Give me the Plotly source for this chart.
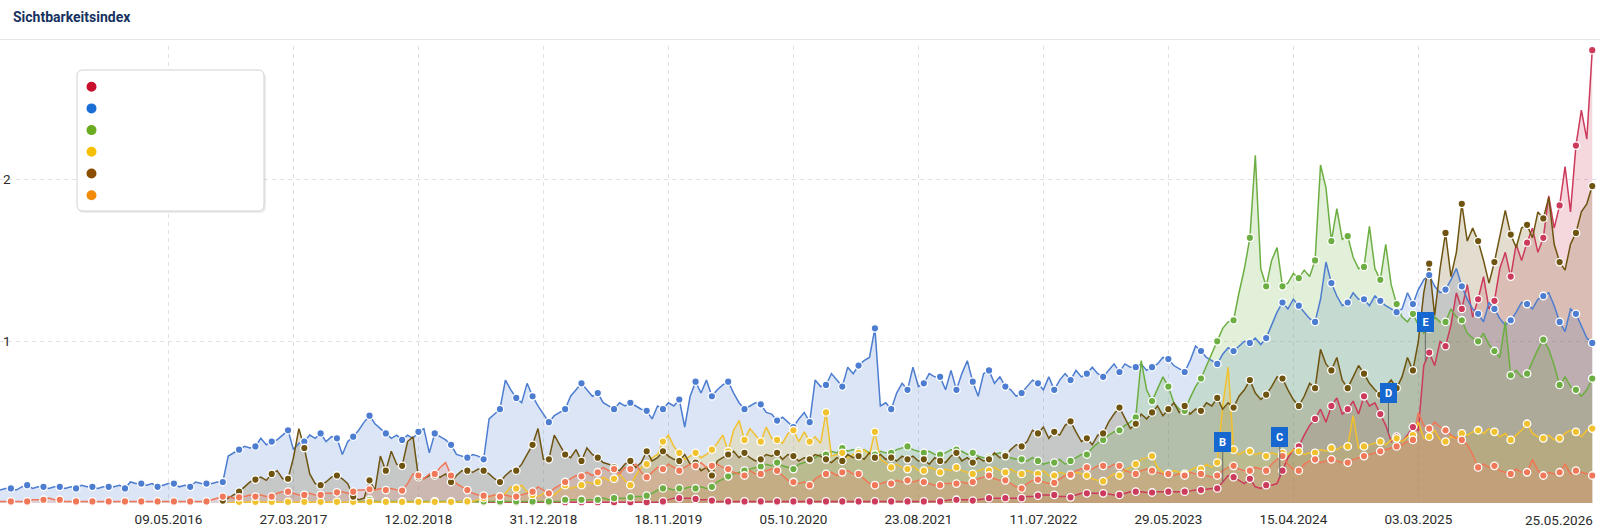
import numpy as np
import pandas as pd
import plotly.graph_objects as go

# ---------------- data: Sichtbarkeitsindex, biweekly values ----------------
START_DATE = "2015-03-02"
N_POINTS = 294
STEP = "14D"

tick_dates = ["2016-05-09", "2017-03-27", "2018-02-12", "2018-12-31", "2019-11-18",
              "2020-10-05", "2021-08-23", "2022-07-11", "2023-05-29", "2024-04-15", "2025-03-03"]
tick_labels = ["09.05.2016", "27.03.2017", "12.02.2018", "31.12.2018", "18.11.2019",
               "05.10.2020", "23.08.2021", "11.07.2022", "29.05.2023", "15.04.2024", "03.03.2025"]
last_label = "25.05.2026"

flag_dates = ["2023-10-16", "2024-03-11", "2024-12-16", "2025-03-21"]
flag_labels = ["B", "C", "D", "E"]

blue = [0.08, 0.09,
    0.09,0.08,0.10, 0.11,0.09,0.10, 0.10,0.09,0.10, 0.10,0.09,0.10, 0.09,0.11,0.10, 0.10,0.09,0.10, 0.10,0.10,0.11,
    0.09,0.13,0.12, 0.12,0.11,0.12, 0.10,0.11,0.12, 0.12,0.10,0.11, 0.10,0.13,0.12, 0.12,0.12,0.13, 0.13,0.29,0.31,
    0.33,0.35,0.34, 0.35,0.40,0.36, 0.38,0.39,0.42, 0.45,0.33,0.37, 0.38,0.42,0.40, 0.43,0.38,0.41, 0.40,0.30,0.38,
    0.41,0.45,0.50, 0.54,0.49,0.46, 0.43,0.40,0.42, 0.39,0.42,0.40, 0.44,0.46,0.31, 0.43,0.41,0.39, 0.36,0.30,0.29,
    0.28,0.30,0.29,
    0.27,0.52,0.55, 0.58,0.76,0.70, 0.65,0.62,0.74, 0.66,0.60,0.55, 0.50,0.54,0.56, 0.58,0.66,0.70, 0.74,0.70,0.66,
    0.68,0.62,0.60, 0.58,0.62,0.60, 0.62,0.60,0.58, 0.57,0.52,0.60, 0.58,0.62,0.60, 0.64,0.47,0.66, 0.75,0.68,0.76,
    0.66,0.70,0.73,
    0.75,0.68,0.62, 0.58,0.60,0.62, 0.61,0.56,0.55, 0.51,0.53,0.50, 0.47,0.52,0.56, 0.50,0.76,0.72, 0.73,0.80,0.76,
    0.72,0.84,0.80, 0.85,0.88,0.90, 1.08,0.60,0.62, 0.58,0.68,0.74, 0.70,0.84,0.72, 0.74,0.80,0.78, 0.78,0.70,0.82,
    0.70,0.80,0.88,
    0.75,0.66,0.80, 0.82,0.74,0.78, 0.72,0.70,0.66, 0.68,0.72,0.76, 0.74,0.70,0.78, 0.70,0.76,0.80, 0.76,0.82,0.78,
    0.80,0.84,0.80, 0.78,0.82,0.86, 0.81,0.86,0.84, 0.84,0.86,0.82, 0.84,0.86,0.90, 0.89,0.85,0.83, 0.81,0.88,0.97,
    0.94,0.90,0.88,
    0.86,0.92,0.96, 0.94,0.97,1.00, 0.99,1.02,0.98, 1.02,1.10,1.18, 1.24,1.20,1.26, 1.22,1.18,1.14, 1.12,1.26,1.49,
    1.36,1.28,1.22, 1.24,1.30,1.26, 1.26,1.22,1.28, 1.25,1.22,1.20, 1.18,1.20,1.30, 1.23,1.32,1.38, 1.41,1.34,1.30,
    1.32,1.38,1.45,
    1.34,1.26,1.20, 1.17,1.12,1.24, 1.20,1.14,1.10, 1.13,1.18,1.24, 1.23,1.20,1.26, 1.28,1.30,1.22, 1.12,1.06,1.20,
    1.17,1.10,1.02,
    0.99]

orange = [0.01, 0.01,
    0.01,0.01,0.01, 0.01,0.02,0.02, 0.02,0.03,0.02, 0.02,0.01,0.01, 0.01,0.01,0.01, 0.01,0.01,0.01, 0.01,0.01,0.01,
    0.01,0.01,0.01, 0.01,0.01,0.01, 0.01,0.01,0.01, 0.01,0.01,0.01, 0.01,0.01,0.01, 0.01,0.02,0.03, 0.04,0.04,0.03,
    0.035,0.04,0.05, 0.04,0.05,0.04, 0.04,0.06,0.07, 0.07,0.06,0.05, 0.05,0.06,0.05, 0.05,0.06,0.06, 0.066,0.07,0.06,
    0.07,0.08,0.08, 0.085,0.08,0.09, 0.08,0.09,0.08, 0.077,0.12,0.18, 0.17,0.15,0.18, 0.18,0.22,0.25, 0.17,0.12,0.10,
    0.08,0.06,0.05,
    0.045,0.04,0.05, 0.04,0.05,0.04, 0.04,0.05,0.06, 0.07,0.10,0.08, 0.06,0.09,0.11, 0.13,0.15,0.17, 0.165,0.19,0.17,
    0.19,0.22,0.20, 0.21,0.18,0.22, 0.21,0.24,0.19, 0.16,0.19,0.22, 0.21,0.24,0.22, 0.20,0.22,0.24, 0.23,0.25,0.22,
    0.23,0.24,0.22,
    0.21,0.19,0.18, 0.17,0.20,0.18, 0.18,0.20,0.21, 0.20,0.17,0.14, 0.13,0.12,0.13, 0.11,0.15,0.17, 0.18,0.19,0.17,
    0.19,0.20,0.18, 0.18,0.15,0.12, 0.11,0.12,0.13, 0.12,0.14,0.13, 0.14,0.13,0.14, 0.13,0.12,0.11, 0.11,0.12,0.12,
    0.12,0.13,0.12,
    0.13,0.15,0.16, 0.17,0.15,0.14, 0.14,0.12,0.10, 0.09,0.12,0.14, 0.145,0.13,0.12, 0.125,0.15,0.17, 0.175,0.20,0.21,
    0.22,0.21,0.23, 0.23,0.22,0.24, 0.23,0.20,0.19, 0.18,0.20,0.21, 0.20,0.19,0.18, 0.18,0.17,0.18, 0.17,0.19,0.18,
    0.18,0.17,0.16,
    0.17,0.20,0.22, 0.23,0.21,0.20, 0.20,0.22,0.21, 0.20,0.24,0.27, 0.29,0.24,0.21, 0.20,0.24,0.26, 0.27,0.25,0.26,
    0.27,0.26,0.25, 0.25,0.27,0.28, 0.29,0.30,0.31, 0.32,0.33,0.34, 0.35,0.36,0.38, 0.39,0.56,0.48, 0.46,0.50,0.47,
    0.45,0.42,0.40,
    0.39,0.36,0.30, 0.22,0.24,0.22, 0.23,0.20,0.19, 0.18,0.21,0.19, 0.19,0.27,0.20, 0.17,0.19,0.18, 0.19,0.24,0.18,
    0.20,0.19,0.18,
    0.17]

yellow = [None] * 42 + [0.0, 0.005,
    0.007,0.005,0.007, 0.007,0.005,0.007, 0.007,0.005,0.007, 0.007,0.005,0.007, 0.007,0.005,0.007, 0.007,0.005,0.007,
    0.007,0.005,0.007, 0.007,0.005,0.007, 0.007,0.005,0.007, 0.007,0.005,0.007, 0.007,0.005,0.007, 0.007,0.005,0.007,
    0.007,0.005,0.007, 0.007,0.005,0.01, 0.01,0.01,0.02,
    0.03,0.04,0.05, 0.04,0.06,0.10, 0.09,0.11,0.07, 0.05,0.04,0.06, 0.06,0.05,0.08, 0.11,0.09,0.10, 0.11,0.13,0.12,
    0.13,0.16,0.14, 0.15,0.18,0.14, 0.11,0.17,0.22, 0.24,0.28,0.30, 0.38,0.42,0.35, 0.31,0.27,0.29, 0.31,0.28,0.30,
    0.33,0.37,0.42,
    0.32,0.45,0.51, 0.39,0.46,0.42, 0.38,0.47,0.40, 0.39,0.37,0.43, 0.45,0.38,0.44, 0.38,0.41,0.37, 0.56,0.29,0.30,
    0.31,0.28,0.30, 0.31,0.33,0.30, 0.44,0.27,0.25, 0.22,0.24,0.22, 0.21,0.23,0.20, 0.20,0.22,0.21, 0.19,0.21,0.20,
    0.22,0.20,0.19,
    0.18,0.20,0.21, 0.20,0.22,0.20, 0.19,0.21,0.19, 0.18,0.20,0.19, 0.18,0.20,0.17, 0.17,0.19,0.18, 0.17,0.19,0.18,
    0.17,0.15,0.14, 0.135,0.16,0.18, 0.17,0.20,0.22, 0.24,0.27,0.28, 0.29,0.22,0.19, 0.18,0.20,0.19, 0.18,0.20,0.22,
    0.21,0.24,0.22,
    0.25,0.60,0.84, 0.33,0.30,0.32, 0.32,0.30,0.31, 0.29,0.31,0.30, 0.31,0.30,0.33, 0.32,0.30,0.31, 0.31,0.33,0.32,
    0.34,0.33,0.35, 0.35,0.54,0.34, 0.35,0.36,0.37, 0.38,0.36,0.39, 0.40,0.38,0.41, 0.42,0.50,0.40, 0.41,0.45,0.39,
    0.38,0.41,0.40,
    0.43,0.42,0.44, 0.45,0.43,0.46, 0.44,0.41,0.43, 0.39,0.42,0.45, 0.49,0.43,0.41, 0.40,0.42,0.39, 0.40,0.43,0.45,
    0.44,0.41,0.45,
    0.46]

brown = [None] * 41 + [0.015, 0.03, 0.05,
    0.07,0.10,0.13, 0.145,0.16,0.14, 0.18,0.20,0.15, 0.15,0.28,0.46, 0.34,0.18,0.12, 0.11,0.13,0.16, 0.17,0.15,0.12,
    0.04,0.02,0.03, 0.14,0.08,0.29, 0.20,0.32,0.24, 0.23,0.38,0.41, 0.16,0.15,0.17, 0.17,0.16,0.18, 0.13,0.17,0.20,
    0.20,0.19,0.21,
    0.20,0.18,0.15, 0.13,0.17,0.20, 0.20,0.24,0.30, 0.36,0.46,0.27, 0.27,0.42,0.36, 0.30,0.28,0.33, 0.26,0.34,0.30,
    0.28,0.25,0.24, 0.22,0.20,0.24, 0.26,0.22,0.25, 0.32,0.26,0.28, 0.32,0.29,0.27, 0.26,0.30,0.24, 0.25,0.20,0.22,
    0.17,0.26,0.28,
    0.30,0.32,0.28, 0.31,0.28,0.26, 0.27,0.30,0.29, 0.31,0.27,0.30, 0.29,0.26,0.28, 0.27,0.30,0.29, 0.27,0.25,0.28,
    0.26,0.30,0.28, 0.29,0.27,0.31, 0.28,0.30,0.27, 0.28,0.26,0.29, 0.27,0.29,0.26, 0.27,0.24,0.28, 0.26,0.25,0.29,
    0.31,0.26,0.28,
    0.25,0.28,0.26, 0.27,0.31,0.28, 0.29,0.33,0.36, 0.35,0.38,0.45, 0.43,0.47,0.40, 0.44,0.42,0.48, 0.505,0.44,0.38,
    0.40,0.36,0.42, 0.43,0.50,0.55, 0.59,0.52,0.46, 0.49,0.55,0.52, 0.56,0.60,0.54, 0.58,0.62,0.56, 0.60,0.55,0.58,
    0.57,0.62,0.60,
    0.65,0.58,0.62, 0.59,0.66,0.70, 0.76,0.68,0.64, 0.67,0.72,0.78, 0.77,0.70,0.64, 0.60,0.66,0.74, 0.71,0.95,0.86,
    0.82,0.90,0.76, 0.71,0.78,0.85, 0.80,0.74,0.70, 0.67,0.72,0.76, 0.71,0.78,0.90, 0.82,1.00,1.30, 1.48,1.16,1.45,
    1.67,1.40,1.55,
    1.85,1.62,1.70, 1.62,1.50,1.36, 1.49,1.65,1.81, 1.66,1.58,1.70, 1.72,1.64,1.80, 1.76,1.89,1.60, 1.49,1.44,1.60,
    1.67,1.80,1.85,
    1.96]

green = [None] * 66 + [0.01, 0.01,
    0.02,0.01,0.01, 0.01,0.01,0.01, 0.01,0.01,0.01, 0.01,0.01,0.01, 0.01,0.01,0.01, 0.01,0.01,0.01, 0.01,0.01,0.01,
    0.01,0.01,0.01, 0.01,0.01,0.01, 0.01,0.01,0.01, 0.01,0.01,0.01, 0.01,0.01,0.01, 0.02,0.02,0.02, 0.02,0.02,0.02,
    0.02,0.03,0.02, 0.03,0.03,0.03, 0.035,0.04,0.04, 0.045,0.06,0.08, 0.09,0.09,0.08, 0.09,0.09,0.10, 0.09,0.10,0.09,
    0.10,0.13,0.15,
    0.165,0.18,0.19, 0.20,0.21,0.22, 0.225,0.24,0.23, 0.25,0.23,0.22, 0.21,0.24,0.25, 0.27,0.28,0.30, 0.30,0.32,0.31,
    0.34,0.32,0.33, 0.32,0.33,0.31, 0.30,0.32,0.31, 0.31,0.33,0.34, 0.35,0.33,0.32, 0.31,0.32,0.30, 0.30,0.31,0.33,
    0.33,0.32,0.30,
    0.31,0.29,0.28, 0.28,0.30,0.31, 0.30,0.28,0.27, 0.27,0.26,0.28, 0.26,0.24,0.25, 0.25,0.27,0.24, 0.26,0.28,0.30,
    0.30,0.34,0.37, 0.39,0.42,0.44, 0.45,0.48,0.50, 0.53,0.88,0.70, 0.63,0.70,0.78, 0.72,0.62,0.58, 0.57,0.65,0.72,
    0.77,0.85,0.92,
    1.00,1.08,1.12, 1.13,1.30,1.45, 1.64,2.15,1.45, 1.34,1.50,1.58, 1.34,1.36,1.42, 1.39,1.44,1.40, 1.50,2.09,1.95,
    1.62,1.82,1.63, 1.65,1.52,1.45, 1.46,1.71,1.45, 1.38,1.60,1.35, 1.23,1.15,1.12, 1.17,1.10,1.05, 1.08,1.15,1.12,
    1.12,1.20,1.15,
    1.13,1.05,1.02, 1.00,1.05,0.98, 0.94,0.90,1.12, 0.79,0.82,0.78, 0.80,0.88,0.95, 1.01,0.95,0.85, 0.73,0.78,0.72,
    0.70,0.66,0.70,
    0.77]

red = [None] * 89 + [
    0.005,0.005,0.005, 0.005,0.005,0.005, 0.005,0.005,0.005, 0.005,0.005,0.005, 0.005,0.005,0.005, 0.005,0.005,0.005,
    0.005,0.005,0.005, 0.005,0.005,0.005, 0.005,0.005,0.005, 0.005,0.005,0.005, 0.005,0.005,0.005, 0.01,0.02,0.03,
    0.03,0.03,0.03, 0.025,0.02,0.02, 0.015,0.01,0.01,
    0.01,0.01,0.01, 0.01,0.01,0.01, 0.01,0.01,0.01, 0.01,0.01,0.01, 0.01,0.01,0.01, 0.01,0.01,0.01, 0.01,0.01,0.01,
    0.01,0.01,0.01, 0.01,0.01,0.01, 0.01,0.01,0.01, 0.01,0.01,0.01, 0.01,0.01,0.01, 0.01,0.01,0.01, 0.01,0.015,0.02,
    0.02,0.02,0.02,
    0.015,0.02,0.025, 0.03,0.03,0.03, 0.03,0.03,0.03, 0.03,0.04,0.04, 0.045,0.05,0.05, 0.05,0.04,0.04, 0.035,0.05,0.06,
    0.06,0.06,0.06, 0.06,0.055,0.05, 0.05,0.06,0.07, 0.07,0.07,0.065, 0.065,0.07,0.07, 0.07,0.07,0.07, 0.07,0.075,0.08,
    0.08,0.085,0.09,
    0.09,0.13,0.17, 0.16,0.14,0.12, 0.15,0.10,0.09, 0.11,0.11,0.12, 0.20,0.28,0.33, 0.35,0.42,0.48, 0.52,0.58,0.50,
    0.60,0.65,0.55, 0.58,0.63,0.55, 0.66,0.60,0.62, 0.55,0.48,0.38, 0.41,0.38,0.42, 0.47,0.45,0.85, 0.93,0.85,1.00,
    0.97,1.10,1.30,
    1.20,1.35,1.15, 1.26,1.40,1.20, 1.25,1.45,1.55, 1.40,1.60,1.50, 1.61,1.70,1.55, 1.64,1.90,1.70, 1.84,2.08,1.80,
    2.21,2.43,2.25,
    2.80]

series_names = ["red", "blue", "green", "yellow", "brown", "orange"]
series_values = [red, blue, green, yellow, brown, orange]
line_colors = ["#cc3a5c", "#4d7dd0", "#6cae42", "#f2c12e", "#6e5410", "#f07858"]
legend_colors = ["#c8102e", "#1a6fd6", "#6aab1f", "#f6c000", "#8b4e00", "#f28a0c"]

for nm, v in zip(series_names, series_values):
    assert len(v) == N_POINTS, (nm, len(v))

dates = pd.date_range(START_DATE, periods=N_POINTS, freq=STEP)

# ---------------- layout geometry ----------------
W, H = 1600, 530
M_T, M_B = 46, 27
PLOT_H = H - M_T - M_B
Y_MAX = 2.826


def pxx(p):
    return p / W


def pxy(p):
    return (H - M_B - p) / PLOT_H


def rgba(hexc, a):
    h = hexc.lstrip("#")
    return "rgba(%d,%d,%d,%.3f)" % (int(h[0:2], 16), int(h[2:4], 16), int(h[4:6], 16), a)


fig = go.Figure()

# fills
for vals, col in zip(series_values, line_colors):
    fig.add_trace(go.Scatter(x=dates, y=vals, mode="lines", line=dict(width=0, color=col),
                             fill="tozeroy", fillcolor=rgba(col, 0.2),
                             hoverinfo="skip", showlegend=False, cliponaxis=False))
# lines
for vals, col in zip(series_values, line_colors):
    fig.add_trace(go.Scatter(x=dates, y=vals, mode="lines", line=dict(width=1.5, color=col),
                             hoverinfo="skip", showlegend=False, cliponaxis=False))
# markers (every third point)
for vals, col in zip(series_values, line_colors):
    mx = [d for i, (d, v) in enumerate(zip(dates, vals)) if v is not None and (i - 2) % 3 == 0]
    my = [v for i, v in enumerate(vals) if v is not None and (i - 2) % 3 == 0]
    fig.add_trace(go.Scatter(x=mx, y=my, mode="markers",
                             marker=dict(size=7.5, color=col, line=dict(color="white", width=1.3)),
                             hoverinfo="skip", showlegend=False, cliponaxis=False))

shapes = []
annotations = []

# header
annotations.append(dict(text="<b>Sichtbarkeitsindex</b>", x=pxx(11), y=pxy(16.5), xref="paper", yref="paper",
                        xanchor="left", yanchor="middle", showarrow=False,
                        font=dict(family="Roboto, sans-serif", size=14, color="#17325f")))
shapes.append(dict(type="line", xref="paper", yref="paper", x0=0, x1=1, y0=pxy(39.5), y1=pxy(39.5),
                   line=dict(color="#e6e6e6", width=1), layer="above"))


def rounded_rect(x0, y0, x1, y1, r):
    pts = [("M", [(x0 + r, y0)]), ("L", [(x1 - r, y0)]), ("Q", [(x1, y0), (x1, y0 + r)]),
           ("L", [(x1, y1 - r)]), ("Q", [(x1, y1), (x1 - r, y1)]), ("L", [(x0 + r, y1)]),
           ("Q", [(x0, y1), (x0, y1 - r)]), ("L", [(x0, y0 + r)]), ("Q", [(x0, y0), (x0 + r, y0)])]
    s = ""
    for cmd, ps in pts:
        s += cmd + " " + " ".join("%.5f,%.5f" % (pxx(a), pxy(b)) for a, b in ps) + " "
    return s + "Z"


# legend box (shadow + box)
shapes.append(dict(type="path", xref="paper", yref="paper", path=rounded_rect(78, 72, 266, 213, 6),
                   fillcolor="rgba(0,0,0,0.07)", line=dict(width=0), layer="above"))
shapes.append(dict(type="path", xref="paper", yref="paper", path=rounded_rect(77, 70, 264, 211, 6),
                   fillcolor="white", line=dict(color="#d2d2d2", width=1), layer="above"))
for j, c in enumerate(legend_colors):
    cy = 86.7 + j * 21.7
    shapes.append(dict(type="circle", xref="paper", yref="paper", xsizemode="pixel", ysizemode="pixel",
                       xanchor=pxx(91.5), yanchor=pxy(cy), x0=-5, x1=5, y0=-5, y1=5,
                       fillcolor=c, line=dict(width=0), layer="above"))

# last date label (justified to the right edge)
annotations.append(dict(text=last_label, x=dates[-1], y=pxy(520), xref="x", yref="paper",
                        xanchor="right", yanchor="middle", showarrow=False, xshift=3,
                        font=dict(family="Roboto, sans-serif", size=13.5, color="#2b2b2b")))

# event flags on the red series
t_num = dates.values.astype("int64").astype(float)
red_arr = np.array([np.nan if v is None else v for v in red], dtype=float)
ok = ~np.isnan(red_arr)
for fd, fl in zip(flag_dates, flag_labels):
    tv = float(pd.Timestamp(fd).value)
    yv = float(np.interp(tv, t_num[ok], red_arr[ok]))
    annotations.append(dict(text="<b>%s</b>" % fl, x=pd.Timestamp(fd), y=yv, xref="x", yref="y",
                            showarrow=True, arrowhead=0, arrowwidth=1, arrowcolor="#6b6b6b",
                            ax=0, ay=-40, standoff=0,
                            bgcolor="#1667d0", bordercolor="#1667d0", borderwidth=1, borderpad=3,
                            width=9, height=12,
                            font=dict(family="Roboto, sans-serif", size=11, color="white")))

fig.update_layout(
    width=W, height=H,
    margin=dict(l=0, r=0, t=M_T, b=M_B, pad=0),
    paper_bgcolor="white", plot_bgcolor="white",
    font=dict(family="Roboto, sans-serif", size=13.5, color="#2b2b2b"),
    hovermode=False,
    shapes=shapes, annotations=annotations,
    xaxis=dict(range=["2015-03-02", "2026-06-14"], tickvals=tick_dates, ticktext=tick_labels,
               showgrid=True, gridcolor="#e2e2e2", griddash="4px,4px", gridwidth=1,
               zeroline=False, showline=False, ticks="", ticklabelstandoff=6,
               tickfont=dict(size=13.5, color="#2b2b2b")),
    yaxis=dict(range=[0, Y_MAX], tickvals=[1, 2], ticktext=["1", "2"],
               showgrid=True, gridcolor="#e2e2e2", griddash="4px,4px", gridwidth=1,
               zeroline=False, showline=False, ticks="", ticklabelposition="inside",
               tickfont=dict(size=13.5, color="#2b2b2b")),
)

fig.write_html("out.html")
